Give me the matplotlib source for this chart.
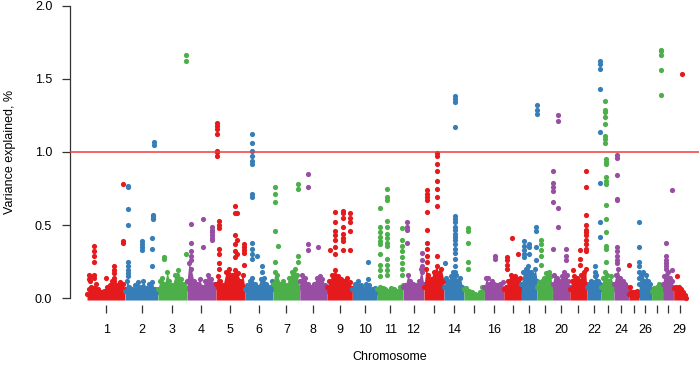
#!/usr/bin/env python3
"""Manhattan plot: variance explained per SNP across 29 bovine autosomes."""
import numpy as np
import matplotlib
matplotlib.use("Agg")
import matplotlib.pyplot as plt

plt.rcParams["font.family"] = ["Liberation Sans", "DejaVu Sans"]

# chromosome lengths (Mb)
chrom_len = [158.5, 136.2, 121.0, 120.0, 120.1, 117.8, 110.7, 113.3, 105.5, 103.3,
             107.0, 87.2, 83.5, 82.4, 85.0, 81.0, 73.2, 65.8, 63.4, 72.0,
             69.9, 60.8, 52.5, 62.3, 42.4, 52.0, 45.6, 45.9, 51.1]
tick_labels = ["1", "2", "3", "4", "5", "6", "7", "8", "9", "10", "11", "12", "", "14", "",
               "16", "", "18", "", "20", "", "22", "", "24", "", "26", "", "", "29"]
palette = ["#E41A1C", "#377EB8", "#4DAF4A", "#984EA3"]

# upper edge of the dense low-signal cloud, per chromosome: (pos Mb, variance %)
bg_top = [
    [(0, .03), (8, .06), (16, .08), (26, .07), (36, .10), (46, .06), (58, .04), (70, .05),
     (82, .08), (94, .09), (104, .12), (114, .10), (126, .09), (138, .11), (148, .10), (157, .06)],
    [(0, .05), (8, .12), (18, .08), (28, .06), (40, .09), (52, .11), (64, .08), (76, .12),
     (88, .07), (100, .10), (112, .11), (124, .06), (135, .04)],
    [(0, .06), (8, .12), (18, .14), (28, .10), (38, .18), (48, .12), (60, .09), (72, .16),
     (84, .19), (96, .13), (108, .10), (120, .07)],
    [(0, .12), (8, .24), (18, .20), (28, .12), (40, .10), (52, .13), (64, .08), (76, .12),
     (88, .16), (100, .13), (112, .10), (119, .08)],
    [(0, .10), (8, .15), (18, .12), (30, .09), (42, .18), (54, .20), (66, .16), (78, .19),
     (90, .17), (102, .12), (112, .16), (120, .08)],
    [(0, .06), (10, .09), (20, .12), (30, .14), (42, .10), (54, .08), (66, .13), (78, .14),
     (90, .10), (102, .08), (112, .12), (117, .06)],
    [(0, .10), (8, .18), (18, .16), (30, .10), (42, .12), (54, .09), (66, .14), (78, .18),
     (90, .20), (100, .16), (110, .08)],
    [(0, .12), (10, .16), (22, .14), (34, .10), (46, .08), (58, .10), (70, .14), (82, .15),
     (94, .13), (106, .09), (113, .05)],
    [(0, .08), (10, .12), (22, .16), (34, .19), (46, .15), (58, .13), (70, .12), (82, .14),
     (94, .11), (105, .07)],
    [(0, .06), (10, .10), (22, .12), (34, .09), (46, .07), (58, .10), (70, .09), (82, .06),
     (94, .07), (103, .04)],
    [(0, .06), (10, .08), (22, .07), (34, .06), (46, .05), (58, .07), (70, .06), (82, .05),
     (94, .08), (106, .09)],
    [(0, .08), (10, .09), (20, .16), (30, .12), (42, .10), (54, .09), (66, .12), (76, .20), (86, .10)],
    [(0, .08), (8, .20), (18, .16), (28, .13), (40, .18), (52, .22), (62, .17), (72, .20), (83, .12)],
    [(0, .08), (8, .14), (18, .12), (28, .15), (38, .18), (48, .16), (58, .12), (68, .14),
     (76, .08), (82, .06)],
    [(0, .06), (10, .07), (22, .05), (34, .04), (46, .03), (56, .02), (66, .04), (76, .08), (85, .06)],
    [(0, .08), (8, .14), (18, .10), (30, .12), (42, .10), (54, .09), (66, .10), (76, .11), (81, .06)],
    [(0, .06), (8, .08), (18, .12), (28, .16), (38, .14), (48, .15), (58, .13), (68, .14), (73, .07)],
    [(0, .10), (8, .18), (18, .20), (28, .22), (38, .18), (48, .16), (58, .20), (65, .12)],
    [(0, .08), (8, .11), (18, .12), (28, .14), (38, .17), (48, .18), (56, .15), (63, .08)],
    [(0, .10), (8, .16), (18, .14), (28, .12), (38, .15), (48, .18), (58, .16), (66, .12), (72, .08)],
    [(0, .06), (8, .12), (18, .15), (28, .14), (38, .12), (48, .16), (58, .18), (66, .20), (69, .10)],
    [(0, .08), (8, .10), (18, .12), (28, .11), (38, .16), (48, .12), (56, .10), (60, .06)],
    [(0, .08), (8, .14), (16, .18), (24, .16), (32, .12), (40, .15), (48, .10), (52, .06)],
    [(0, .10), (8, .16), (16, .20), (26, .14), (36, .12), (46, .10), (56, .08), (62, .05)],
    [(0, .03), (8, .04), (16, .04), (24, .04), (32, .05), (40, .04), (42, .02)],
    [(0, .10), (6, .16), (14, .18), (22, .12), (30, .16), (38, .12), (46, .10), (52, .06)],
    [(0, .05), (8, .07), (16, .06), (24, .08), (32, .10), (40, .09), (45, .06)],
    [(0, .10), (6, .15), (14, .20), (22, .18), (30, .14), (38, .12), (45, .08)],
    [(0, .07), (8, .08), (16, .07), (24, .08), (32, .06), (40, .04), (46, .02), (51, .0)],
]

# SNPs standing out of the cloud: (chromosome, pos Mb, [variance % values])
peaks = [
    (1, 8, [.16, .13]), (1, 12, [.15, .12]), (1, 27, [.36, .32, .29, .25, .16, .14]),
    (1, 79, [.14]), (1, 114, [.22, .19, .17, .14, .12]), (1, 151, [.78, .39, .38]),
    (2, 12, [.77, .76, .61, .50, .25, .22, .19, .17, .15]), (2, 68, [.39, .37, .35, .33]),
    (2, 112, [.41, .34, .22]), (2, 116, [.57, .56, .55, .54]), (2, 121, [1.07, 1.05]),
    (3, 27, [.28, .27]), (3, 117, [1.66, 1.62, .30]),
    (4, 18, [.51, .38, .32, .29, .26]), (4, 68, [.54, .35]),
    (4, 105, [.49, .47, .45, .43, .41, .40]),
    (5, 4, [1.20, 1.18, 1.16, 1.12, 1.01, 1.00, .97]),
    (5, 14, [.53, .50, .48, .34, .30, .24, .20]), (5, 80, [.63, .58, .43, .37, .32, .28]),
    (5, 88, [.58, .40, .30]), (5, 116, [.37, .35, .33, .31, .23]),
    (6, 29, [1.12, 1.06, 1.01, .97, .94, .92, .71, .69, .38, .34, .30, .27]),
    (6, 50, [.29]), (6, 70, [.22, .18]),
    (7, 6, [.76, .71, .66, .46, .25]), (7, 20, [.36]), (7, 102, [.78, .75, .29, .25]),
    (8, 35, [.85, .76, .37, .33]), (8, 74, [.35]),
    (9, 11, [.33]), (9, 32, [.59, .52, .46, .43, .40, .35, .30]),
    (9, 67, [.60, .58, .55, .49, .44, .41, .39, .33]), (9, 96, [.58, .55, .52, .46, .33]),
    (10, 66, [.25, .13]),
    (11, 12, [.62, .49, .45, .42, .39, .37, .30, .23, .19, .15]),
    (11, 40, [.75, .69, .67, .53, .49, .44, .41, .38, .36, .27, .23, .19, .16]),
    (11, 104, [.48, .40, .36, .32, .28, .24, .20, .16]),
    (12, 16, [.52, .49, .47, .38]), (12, 78, [.31, .26, .22, .18]),
    (13, 12, [.74, .71, .69, .67, .59, .47, .38, .34, .29, .25]),
    (13, 53, [.99, .97, .92, .87, .80, .75, .69, .63, .29]),
    (14, 4, [.24]),
    (14, 45, [1.38, 1.36, 1.34, 1.17, .56, .54, .52, .49, .47, .44, .42, .40, .37, .34,
              .31, .27, .22, .18]),
    (15, 15, [.48, .46, .38, .25, .20]),
    (16, 17, [.14]), (16, 45, [.29, .27]),
    (17, 12, [.28, .26, .23, .20]), (17, 33, [.41]), (17, 60, [.30]),
    (18, 10, [.39, .36, .33, .30, .28]), (18, 30, [.37, .35, .30]),
    (18, 61, [.49, .46, .35, .26]), (18, 63, [1.32, 1.29, 1.26]),
    (19, 15, [.40, .37, .33, .29, .23]),
    (20, 1, [.87, .79, .76, .73, .66, .34]), (20, 23, [1.25, 1.21, .62, .49]),
    (20, 54, [.34, .29, .26]),
    (21, 14, [.19]), (21, 42, [.33, .27, .23]),
    (21, 66, [.87, .76, .57, .50, .47, .45, .43, .40, .37, .34, .32]),
    (22, 33, [.22, .18, .15]), (22, 55, [1.62, 1.60, 1.57, 1.43, 1.14, .79, .52, .42]),
    (23, 14, [1.35, 1.29, 1.27, 1.24, 1.19, 1.11, 1.09, 1.06]),
    (23, 18, [.95, .93, .92, .83, .80, .78, .64, .54, .45, .36, .34, .25]),
    (24, 13, [.98, .96, .84, .68, .67, .35, .32, .29, .26, .24]),
    (25, 1, [.23]), (25, 4, [.08]),
    (26, 1, [.52, .35, .25, .22, .18, .14]),
    (27, 39, [1.70, 1.69, 1.66, 1.56, 1.39]),
    (28, 12, [.38, .29, .26, .24, .22]), (28, 40, [.74, .19]),
    (29, 12, [.15]), (29, 35, [1.53]),
]

threshold = 1.0

offsets = np.concatenate([[0], np.cumsum(chrom_len)[:-1]])
centers = offsets + np.array(chrom_len) / 2

fig = plt.figure(figsize=(6.99, 3.71), dpi=100)
ax = fig.add_axes([70 / 699, 66 / 371, 629 / 699, 305 / 371])

for i, env in enumerate(bg_top):
    col = palette[i % 4]
    x = offsets[i] + np.array([p for p, _ in env])
    y = np.array([v for _, v in env])
    ax.fill_between(x, -0.012, y, color=col, lw=0, zorder=2)
    ax.scatter(x, y, s=14, color=col, lw=0, zorder=2)

for chrom, pos, vals in peaks:
    col = palette[(chrom - 1) % 4]
    x = np.full(len(vals), offsets[chrom - 1] + pos)
    ax.scatter(x, vals, s=14, color=col, lw=0, zorder=3)

ax.axhline(threshold, color="#f03c3c", lw=1.1, zorder=4)

ax.set_xlim(-70.7, 2543.6)
ax.set_ylim(-0.046, 2.039)
for s in ["top", "right", "bottom"]:
    ax.spines[s].set_visible(False)
ax.spines["left"].set_bounds(0, 2)
ax.spines["left"].set_color("#333333")
ax.spines["left"].set_linewidth(0.9)

ax.set_yticks([0, 0.5, 1.0, 1.5, 2.0])
ax.set_yticklabels(["0.0", "0.5", "1.0", "1.5", "2.0"])
ax.set_xticks(centers)
ax.set_xticklabels(tick_labels)
ax.tick_params(axis="y", length=5.8, width=0.9, color="#333333", labelsize=9, pad=7)
ax.tick_params(axis="x", length=5.8, width=0.9, color="#333333", labelsize=9, pad=8)

fig.text(390 / 699, 1 - 357 / 371, "Chromosome", ha="center", va="center", fontsize=9)
fig.text(10 / 699, 1 - 151.5 / 371, "Variance explained, %", ha="center", va="center",
         rotation=90, fontsize=9)

fig.savefig("out.png", dpi=100)
